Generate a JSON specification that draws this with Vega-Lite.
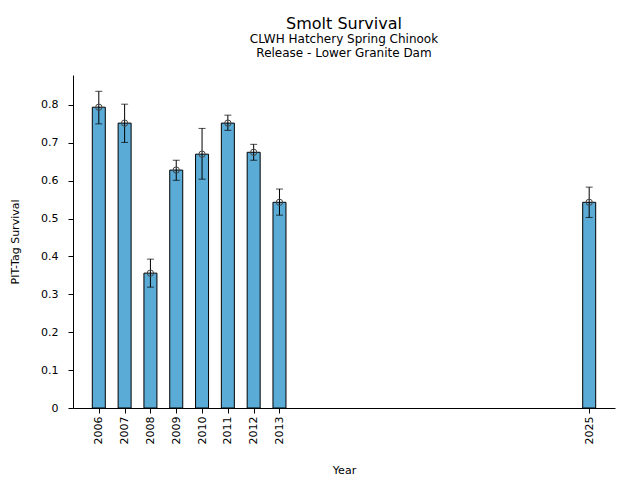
{
  "$schema": "https://vega.github.io/schema/vega-lite/v6.json",
  "autosize": "none",
  "width": 542,
  "height": 333,
  "padding": {"left": 73, "top": 75, "right": 25, "bottom": 72},
  "background": "white",
  "title": {
    "text": "Smolt Survival",
    "subtitle": ["CLWH Hatchery Spring Chinook", "Release - Lower Granite Dam"],
    "anchor": "middle",
    "font": "DejaVu Sans",
    "fontSize": 16,
    "fontWeight": "normal",
    "color": "black",
    "subtitleFont": "DejaVu Sans",
    "subtitleFontSize": 12,
    "subtitleColor": "black",
    "subtitleLineHeight": 14,
    "subtitlePadding": 2,
    "offset": 16
  },
  "config": {
    "view": {"stroke": null},
    "axis": {
      "grid": false,
      "domainColor": "black",
      "tickColor": "black",
      "labelColor": "black",
      "titleColor": "black",
      "labelFont": "DejaVu Sans",
      "titleFont": "DejaVu Sans",
      "labelFontSize": 11,
      "titleFontSize": 11,
      "titleFontWeight": "normal",
      "tickSize": 5,
      "labelPadding": 4
    }
  },
  "data": {
    "values": [
      {"Year": 2006, "Survival": 0.794, "Lower": 0.750, "Upper": 0.836},
      {"Year": 2007, "Survival": 0.752, "Lower": 0.701, "Upper": 0.802},
      {"Year": 2008, "Survival": 0.356, "Lower": 0.319, "Upper": 0.393},
      {"Year": 2009, "Survival": 0.628, "Lower": 0.601, "Upper": 0.654},
      {"Year": 2010, "Survival": 0.670, "Lower": 0.604, "Upper": 0.738},
      {"Year": 2011, "Survival": 0.752, "Lower": 0.733, "Upper": 0.773},
      {"Year": 2012, "Survival": 0.675, "Lower": 0.654, "Upper": 0.696},
      {"Year": 2013, "Survival": 0.543, "Lower": 0.509, "Upper": 0.578},
      {"Year": 2025, "Survival": 0.543, "Lower": 0.503, "Upper": 0.583}
    ]
  },
  "encoding": {
    "x": {
      "field": "Year",
      "type": "quantitative",
      "scale": {"domain": [2005, 2026], "nice": false, "zero": false, "padding": 0},
      "axis": {
        "title": "Year",
        "values": [2006, 2007, 2008, 2009, 2010, 2011, 2012, 2013, 2025],
        "format": "d",
        "labelAngle": 270,
        "labelPadding": 3,
        "titlePadding": 21
      }
    }
  },
  "layer": [
    {
      "mark": {"type": "bar", "width": 13, "color": "#5aabd6", "stroke": "black", "strokeWidth": 1},
      "encoding": {
        "y": {
          "field": "Survival",
          "type": "quantitative",
          "scale": {"domain": [0, 0.879], "nice": false, "padding": 0},
          "axis": {
            "title": "PIT-Tag Survival",
            "values": [0, 0.1, 0.2, 0.3, 0.4, 0.5, 0.6, 0.7, 0.8],
            "labelExpr": "datum.value == 0 ? '0' : format(datum.value, '.1f')",
            "labelPadding": 10,
            "titlePadding": 20
          }
        }
      }
    },
    {
      "mark": {"type": "rule", "color": "black", "strokeWidth": 1},
      "encoding": {
        "y": {"field": "Lower", "type": "quantitative"},
        "y2": {"field": "Upper"}
      }
    },
    {
      "mark": {"type": "tick", "orient": "horizontal", "color": "black", "size": 7, "thickness": 1},
      "encoding": {"y": {"field": "Lower", "type": "quantitative"}}
    },
    {
      "mark": {"type": "tick", "orient": "horizontal", "color": "black", "size": 7, "thickness": 1},
      "encoding": {"y": {"field": "Upper", "type": "quantitative"}}
    },
    {
      "mark": {"type": "point", "shape": "circle", "filled": false, "stroke": "#444444", "strokeWidth": 1, "size": 40, "opacity": 1},
      "encoding": {"y": {"field": "Survival", "type": "quantitative"}}
    }
  ]
}
